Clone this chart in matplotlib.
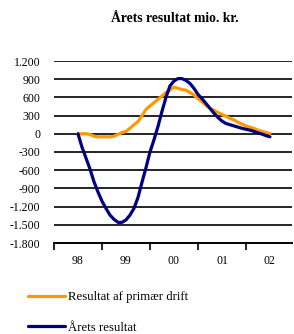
import numpy as np
import matplotlib.pyplot as plt

# monthly values, Jan 98 .. Jan 02 (mio. kr.)
primaer_drift = [0, 0, 0, -10, -40, -50, -50, -50, -50, -40, -10, 20, 40,
                 90, 150, 200, 300, 400, 460, 510, 570, 620, 680, 720, 770,
                 750, 730, 720, 680, 640, 580, 530, 470, 420, 390, 350, 320,
                 290, 255, 230, 190, 160, 130, 110, 90, 60, 40, 20, 5]
aarets_resultat = [0, -220, -400, -580, -790, -960, -1110, -1230, -1340,
                   -1410, -1460, -1460, -1420, -1340, -1230, -1050, -800,
                   -560, -300, -100, 120, 370, 600, 790, 870, 910, 910, 880,
                   830, 750, 650, 580, 500, 420, 340, 270, 210, 170, 150, 130,
                   110, 90, 75, 60, 40, 15, -5, -30, -50]
year_labels = ['98', '99', '00', '01', '02']
y_ticks = [1200, 900, 600, 300, 0, -300, -600, -900, -1200, -1500, -1800]

plt.rcParams['font.family'] = ['Liberation Serif', 'DejaVu Serif']

fig = plt.figure(figsize=(2.94, 3.34), dpi=100)
ax = fig.add_axes([54 / 294, 1 - 243 / 334, 238 / 294, 182 / 334])

x = np.arange(len(primaer_drift)) / 12.0
ax.plot(x, primaer_drift, color='#FF9900', lw=2.3, label='Resultat af primær drift',
        solid_capstyle='round')
ax.plot(x, aarets_resultat, color='#000080', lw=2.3, label='Årets resultat',
        solid_capstyle='round')

ax.set_ylim(-1800, 1200)
ax.set_xlim(-0.5, 4.46)
ax.set_yticks(y_ticks)
ax.set_yticklabels([f'{v:,}'.replace(',', '.') for v in y_ticks], fontsize=8.5)
ax.tick_params(axis='y', length=0, pad=10)
for v in y_ticks[:-1]:
    ax.axhline(v, color='black', lw=1.2, zorder=0)

ax.set_xticks(np.arange(len(year_labels)) - 0.5)
ax.set_xticklabels([])
ax.set_xticks(np.arange(len(year_labels)), minor=True)
ax.set_xticklabels(year_labels, minor=True, fontsize=8.5)
ax.tick_params(axis='x', which='major', direction='out', length=5, width=1.2, color='black')
ax.tick_params(axis='x', which='minor', length=0, pad=9)

for s in ['top', 'right', 'left']:
    ax.spines[s].set_visible(False)
ax.spines['bottom'].set_linewidth(1.4)

fig.text(175 / 294, 1 - 18 / 334, 'Årets resultat mio. kr.', ha='center', va='center',
         fontsize=9.8, fontweight='bold')

fig.legend(loc='upper left', bbox_to_anchor=(28 / 294, 1 - 291 / 334), frameon=False,
           fontsize=9.2, handlelength=2.9, handletextpad=0.25, labelspacing=1.45,
           borderpad=0, borderaxespad=0)

fig.savefig('out.png', dpi=100)
